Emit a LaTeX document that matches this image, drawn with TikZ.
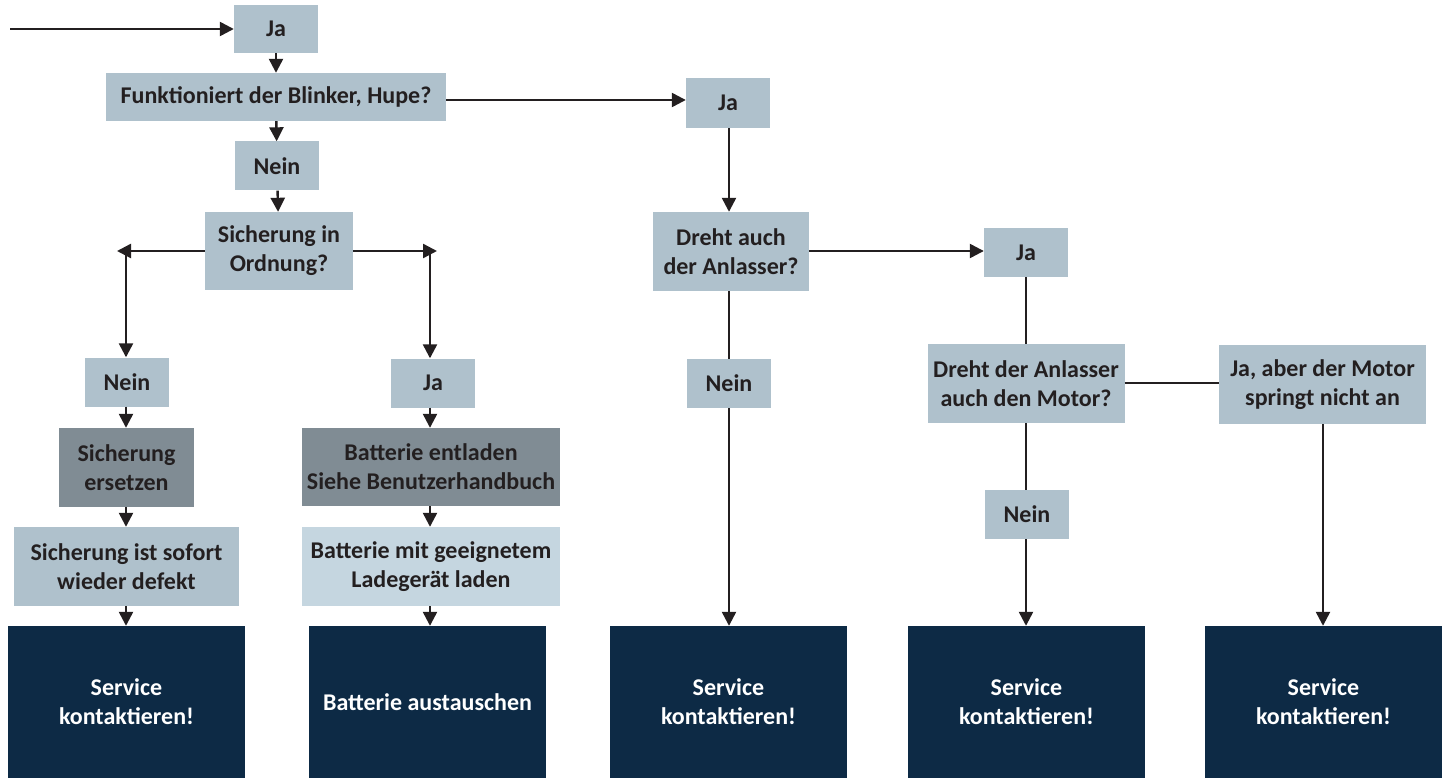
\documentclass[tikz,border=0pt]{standalone}
\usepackage{fontspec}
\setmainfont{Carlito}
\usetikzlibrary{arrows.meta}

\definecolor{boxgrey}{HTML}{AFC1CC}
\definecolor{boxdark}{HTML}{808C94}
\definecolor{boxpale}{HTML}{C5D6E0}
\definecolor{boxnavy}{HTML}{0D2A45}
\definecolor{linecol}{HTML}{231F20}

\begin{document}
\begin{tikzpicture}[x=1pt,y=-1pt,
  box/.style={fill=boxgrey, text=linecol, inner sep=0pt, align=center,
    font=\bfseries\fontsize{24}{29}\selectfont},
  answer/.style={box, minimum width=84pt, minimum height=49pt},
  endbox/.style={box, fill=boxnavy, text=white, minimum width=237pt, minimum height=152pt},
  arr/.style={draw=linecol, line width=2.4pt, -{Triangle[length=14pt,width=14pt]}},
  ln/.style={draw=linecol, line width=2.4pt}]
  \useasboundingbox (0,0) rectangle (1443,778);

  % left column
  \coordinate (start) at (10,29);
  \node [answer, minimum height=48pt] (ja1) at (276,29) {Ja};
  \node [box, minimum width=340pt, minimum height=48pt] (funkt) at (276,97) {Funktioniert der Blinker, Hupe?};
  \node [answer] (nein1) at (277,166) {Nein};
  \node [box, minimum width=148pt, minimum height=78pt] (sicher) at (279,251) {Sicherung in\\Ordnung?};
  \coordinate (lcorner) at (117,251);
  \coordinate (rcorner) at (437,251);
  \node [answer] (nein2) at (127,382) {Nein};
  \node [answer] (ja3) at (433,383) {Ja};
  \node [box, fill=boxdark, minimum width=135pt, minimum height=79pt] (ersetzen) at (126.5,467.5) {Sicherung\\ersetzen};
  \node [box, fill=boxdark, minimum width=258pt, minimum height=78pt] (entladen) at (431,467) {Batterie entladen\\Siehe Benutzerhandbuch};
  \node [box, minimum width=225pt, minimum height=79pt] (sofort) at (126.5,566.5) {Sicherung ist sofort\\wieder defekt};
  \node [box, fill=boxpale, minimum width=258pt, minimum height=79pt] (laden) at (431,566.5) {Batterie mit geeignetem\\Ladegerät laden};
  \node [endbox] (service1) at (126.5,702) {Service\\kontaktieren!};
  \node [endbox] (tausch) at (427.5,702) {Batterie austauschen};

  % right part
  \node [answer, minimum height=50pt] (ja2) at (728,103) {Ja};
  \node [box, minimum width=156pt, minimum height=79pt] (dreht) at (731,251.5) {Dreht auch\\der Anlasser?};
  \node [answer] (ja4) at (1026,252.5) {Ja};
  \node [answer] (nein3) at (729,383.5) {Nein};
  \node [box, minimum width=197pt, minimum height=79pt] (motor) at (1026,383.5) {Dreht der Anlasser\\auch den Motor?};
  \node [box, minimum width=207pt, minimum height=79pt] (springt) at (1322.5,384.5) {Ja, aber der Motor\\springt nicht an};
  \node [answer] (nein4) at (1027,514.5) {Nein};
  \node [endbox] (service3) at (728.5,702) {Service\\kontaktieren!};
  \node [endbox] (service4) at (1026.5,702) {Service\\kontaktieren!};
  \node [endbox] (service5) at (1323.5,702) {Service\\kontaktieren!};

  % connectors
  \draw [arr] (start) -- (ja1);
  \draw [arr] (ja1) -- (funkt);
  \draw [arr] (funkt) -- (nein1);
  \draw [arr] (nein1) -- (sicher);
  \draw [arr] (sicher.west) -- (lcorner);
  \draw [arr] (sicher.east) -- (rcorner);
  \draw [arr] (126,251) -- (nein2.north -| 126,0);
  \draw [arr] (430,251) -- (ja3.north -| 430,0);
  \draw [arr] (nein2.south -| 126,0) -- (ersetzen.north -| 126,0);
  \draw [arr] (ja3.south -| 430,0) -- (entladen.north -| 430,0);
  \draw [arr] (ersetzen.south -| 126,0) -- (sofort.north -| 126,0);
  \draw [arr] (entladen.south -| 430,0) -- (laden.north -| 430,0);
  \draw [arr] (sofort.south -| 126,0) -- (service1.north -| 126,0);
  \draw [arr] (laden.south -| 430,0) -- (tausch.north -| 430,0);
  \draw [arr] (funkt.east |- 0,100) -- (ja2.west |- 0,100);
  \draw [arr] (ja2.south -| 729,0) -- (dreht.north -| 729,0);
  \draw [arr] (dreht.east |- 0,251) -- (ja4.west |- 0,251);
  \draw [ln] (dreht.south -| 729,0) -- (nein3.north -| 729,0);
  \draw [arr] (nein3.south -| 729,0) -- (service3.north -| 729,0);
  \draw [ln] (ja4.south -| 1026,0) -- (motor.north -| 1026,0);
  \draw [ln] (motor.east |- 0,383) -- (springt.west |- 0,383);
  \draw [ln] (motor.south -| 1026,0) -- (nein4.north -| 1026,0);
  \draw [arr] (nein4.south -| 1026,0) -- (service4.north -| 1026,0);
  \draw [arr] (springt.south -| 1323,0) -- (service5.north -| 1323,0);
\end{tikzpicture}
\end{document}
